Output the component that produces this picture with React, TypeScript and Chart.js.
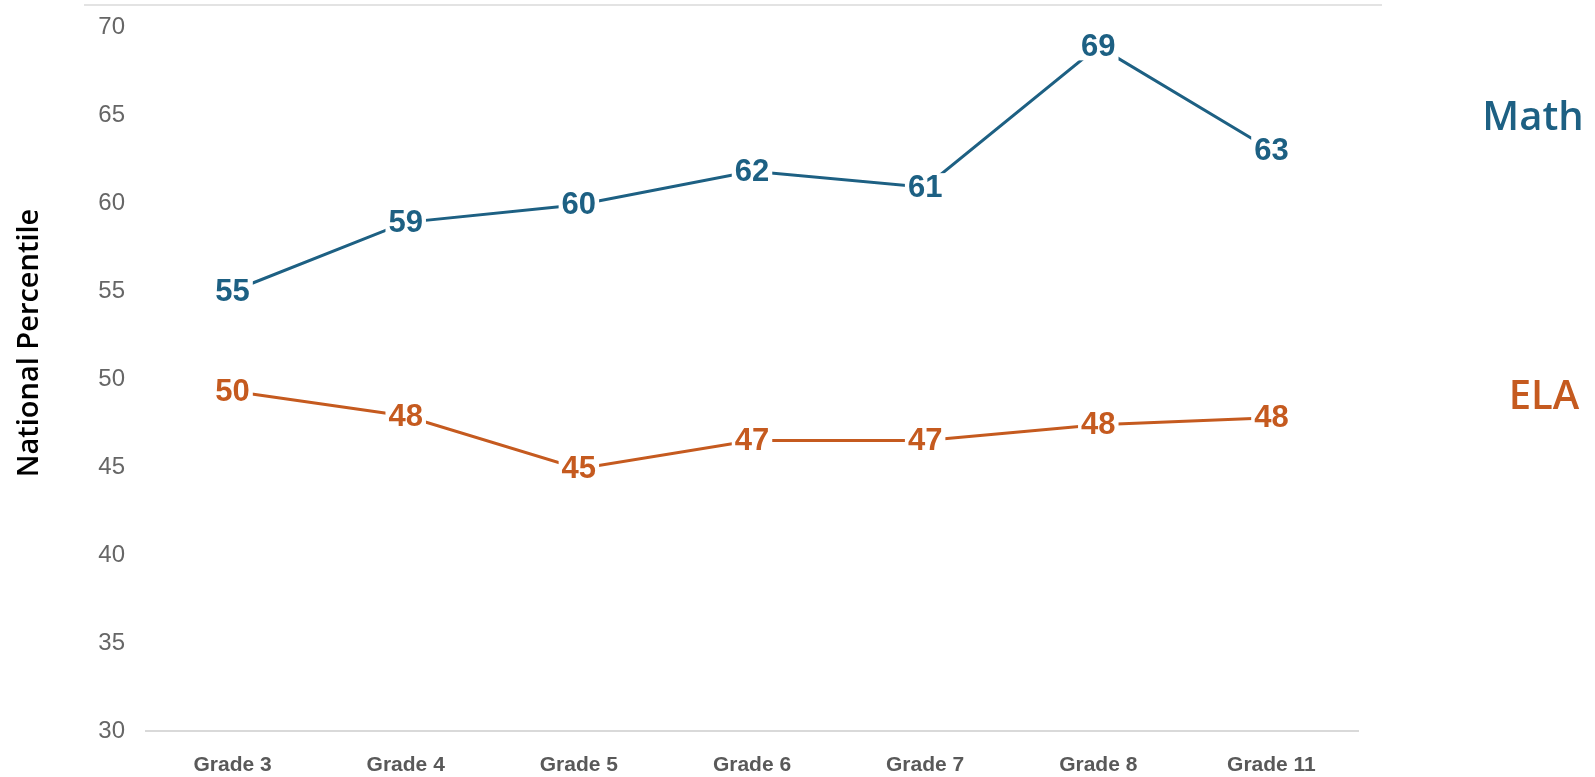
import React, { useEffect, useRef } from "react";
import { Chart, registerables } from "chart.js";

Chart.register(...registerables);

const categories = ["Grade 3", "Grade 4", "Grade 5", "Grade 6", "Grade 7", "Grade 8", "Grade 11"];
const mathValues = [55.0, 58.9, 59.9, 61.8, 60.9, 68.9, 63.0];
const mathLabels = ["55", "59", "60", "62", "61", "69", "63"];
const elaValues = [49.3, 47.9, 44.9, 46.5, 46.5, 47.4, 47.8];
const elaLabels = ["50", "48", "45", "47", "47", "48", "48"];
const yMin = 30;
const yMax = 70;
const yStep = 5;
const yTitle = "National Percentile";

const MATH_COLOR = "#1d6083";
const ELA_COLOR = "#c55a1f";

const W = 1595;
const H = 777;

const overlayPlugin = {
  id: "overlay",
  afterDatasetsDraw(chart: any) {
    const ctx = chart.ctx;
    const labelSets = [mathLabels, elaLabels];
    ctx.save();
    chart.data.datasets.forEach((ds: any, di: number) => {
      const meta = chart.getDatasetMeta(di);
      ctx.font = "bold 31px 'Liberation Sans', Arial, sans-serif";
      ctx.textAlign = "center";
      ctx.textBaseline = "middle";
      meta.data.forEach((pt: any, i: number) => {
        const txt = labelSets[di][i];
        const tw = ctx.measureText(txt).width;
        ctx.fillStyle = "#ffffff";
        ctx.fillRect(pt.x - tw / 2 - 3, pt.y - 14, tw + 6, 28);
        ctx.fillStyle = ds.borderColor;
        ctx.fillText(txt, pt.x, pt.y + 1);
      });
    });
    ctx.restore();
  },
  afterDraw(chart: any) {
    const ctx = chart.ctx;
    const area = chart.chartArea;
    ctx.save();
    // top frame line
    ctx.strokeStyle = "#e3e3e3";
    ctx.lineWidth = 2;
    ctx.beginPath();
    ctx.moveTo(84, 5);
    ctx.lineTo(1382, 5);
    ctx.stroke();
    // y title
    ctx.translate(30, (area.top + area.bottom) / 2 - 36);
    ctx.rotate(-Math.PI / 2);
    ctx.fillStyle = "#000000";
    ctx.font = "600 29px 'Open Sans', sans-serif";
    ctx.textAlign = "center";
    ctx.textBaseline = "middle";
    ctx.fillText(yTitle, 0, 0);
    ctx.restore();
    // series names at right
    ctx.save();
    ctx.font = "600 40px 'Open Sans', sans-serif";
    ctx.textAlign = "center";
    ctx.textBaseline = "middle";
    const ds = chart.data.datasets;
    ctx.fillStyle = ds[0].borderColor;
    ctx.fillText(ds[0].label, 1533, 119);
    ctx.fillStyle = ds[1].borderColor;
    ctx.fillText(ds[1].label, 1544, 398);
    ctx.restore();
  },
};

export default function App() {
  const ref = useRef<HTMLCanvasElement>(null);
  useEffect(() => {
    document.body.style.margin = "0";
    const chart = new Chart(ref.current!, {
      type: "line",
      data: {
        labels: categories,
        datasets: [
          {
            label: "Math",
            data: mathValues,
            borderColor: MATH_COLOR,
            backgroundColor: MATH_COLOR,
            borderWidth: 3,
            pointRadius: 0,
            tension: 0,
          },
          {
            label: "ELA",
            data: elaValues,
            borderColor: ELA_COLOR,
            backgroundColor: ELA_COLOR,
            borderWidth: 3,
            pointRadius: 0,
            tension: 0,
          },
        ],
      },
      options: {
        responsive: false,
        animation: false,
        layout: { padding: { left: 0, right: 237, top: 27, bottom: 0 } },
        plugins: { legend: { display: false }, tooltip: { enabled: false } },
        scales: {
          x: {
            offset: true,
            grid: { display: false, drawTicks: false },
            border: { display: true, color: "#d9d9d9", width: 2 },
            ticks: {
              color: "#595959",
              font: { family: "'Liberation Sans', Arial, sans-serif", size: 21, weight: "bold" },
              padding: 22,
              maxRotation: 0,
            },
            afterFit: (s: any) => {
              s.height = 46;
              s.paddingLeft = 0;
              s.paddingRight = 0;
            },
          },
          y: {
            min: yMin,
            max: yMax,
            grid: { display: false, drawTicks: false },
            border: { display: false },
            ticks: {
              stepSize: yStep,
              color: "#666666",
              font: { family: "'Liberation Sans', Arial, sans-serif", size: 24 },
              padding: 21,
            },
            afterFit: (s: any) => {
              s.width = 146;
              s.paddingTop = 0;
              s.paddingBottom = 0;
            },
          },
        },
      },
      plugins: [overlayPlugin],
    });
    return () => chart.destroy();
  }, []);
  return (
    <div style={{ width: W, height: H, background: "#fff" }}>
      <canvas ref={ref} width={W} height={H} />
    </div>
  );
}
